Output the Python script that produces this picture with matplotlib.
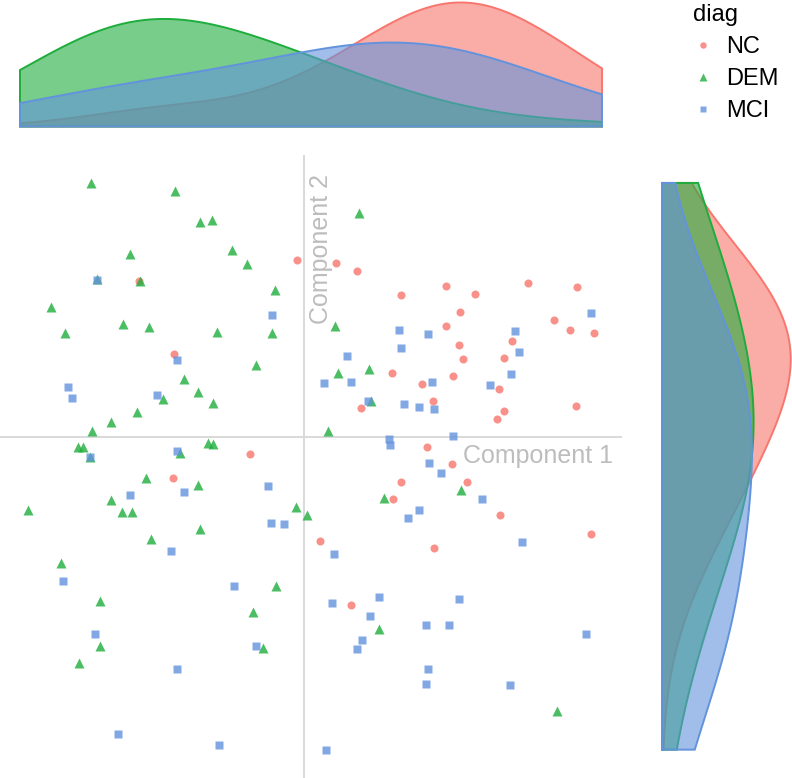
import numpy as np
import matplotlib
matplotlib.use('Agg')
import matplotlib.pyplot as plt
from matplotlib.lines import Line2D
from matplotlib.colors import to_rgba

plt.rcParams['font.family'] = ['Liberation Sans', 'DejaVu Sans']

# Component scores per diagnosis group
nc_c1 = [-0.14, -3.30, -2.60, 0.62, 1.04, 2.82, 1.92, 3.40, 4.46, 5.44,
         3.10, 2.82, 4.98, 5.30, 5.78, 3.08, 4.14, 3.16, 3.98, 1.74,
         2.34, 2.96, 3.88, 2.56, 1.12, 5.42, 3.98, 3.84, 2.44, 2.94,
         1.92, 3.24, 1.76, 3.90, 0.30, 2.58, 5.72, 0.92, -1.08, -2.62]
nc_c2 = [3.54, 3.12, 1.66, 3.48, 3.32, 3.02, 2.84, 2.86, 3.08, 3.00,
         2.50, 2.22, 2.34, 2.14, 2.08, 1.84, 1.92, 1.56, 1.58, 1.28,
         1.06, 1.22, 0.96, 0.72, 0.58, 0.62, 0.52, 0.36, -0.20, -0.54,
         -0.90, -0.90, -1.24, -1.56, -2.08, -2.22, -1.94, -3.36, -0.34, -0.82]

dem_c1 = [-4.26, -2.58, -2.08, -1.84, -3.48, -1.44, -1.14, -4.14, -3.28, -0.58,
          -5.06, -3.62, -3.10, -4.78, -1.74, -0.64, -0.96, -2.40, -2.12, -2.82,
          -1.82, -3.34, -3.86, -4.24, -4.52, -4.42, -1.92, -1.82, -4.28, -2.48,
          -3.16, -2.12, -3.86, -5.52, -3.64, -3.44, -0.16, 0.06, -2.08, -3.06,
          -4.86, -4.08, -0.56, -1.02, -4.08, -0.82, -4.50, 1.08, 0.60, 0.66,
          1.28, 1.32, 0.46, 1.58, 3.12, 1.48, 5.04]
dem_c2 = [5.08, 4.92, 4.30, 4.34, 3.66, 3.74, 3.46, 3.16, 3.12, 2.94,
          2.60, 2.26, 2.20, 2.08, 2.10, 2.08, 1.44, 1.16, 0.90, 0.76,
          0.68, 0.50, 0.30, 0.12, -0.20, -0.20, -0.12, -0.14, -0.40, -0.32,
          -0.82, -0.96, -1.26, -1.46, -1.50, -1.50, -1.40, -1.56, -1.84, -2.04,
          -2.52, -3.28, -2.98, -3.50, -4.18, -4.22, -4.52, 4.48, 2.22, 1.28,
          1.36, 0.72, 0.12, -1.22, -1.06, -3.84, -5.48]

mci_c1 = [-4.14, -0.64, -2.54, -4.72, -4.64, -2.94, 5.72, 1.88, 2.46, 4.20,
          1.92, 0.84, 4.28, 4.12, 0.38, 0.92, 2.54, 3.70, 1.26, 1.98,
          2.28, 2.58, 1.68, 1.70, 2.96, -4.28, -2.54, -2.40, -3.48, -0.72,
          -0.66, -0.40, -2.66, -4.82, -1.40, -4.18, -0.96, -2.54, -3.72, -1.70,
          2.48, 2.72, 3.54, 2.28, 2.06, 4.34, 0.58, 0.54, 1.48, 3.08,
          1.30, 2.42, 2.88, 5.62, 1.14, 1.04, 2.46, 2.42, 4.10, 0.42]
mci_c2 = [3.14, 2.44, 1.54, 1.00, 0.78, 0.84, 2.48, 2.14, 2.06, 2.12,
          1.78, 1.62, 1.70, 1.26, 1.08, 1.10, 1.10, 1.04, 0.72, 0.66,
          0.60, 0.56, -0.04, -0.16, 0.02, -0.40, -0.28, -1.10, -1.16, -0.98,
          -1.72, -1.74, -2.28, -2.88, -2.98, -3.94, -4.18, -4.64, -5.94, -6.16,
          -0.52, -0.72, -1.24, -1.46, -1.62, -2.10, -2.34, -3.32, -3.20, -3.24,
          -3.58, -3.76, -3.76, -3.94, -4.06, -4.24, -4.64, -4.94, -4.96, -6.26]

groups = ['NC', 'DEM', 'MCI']
colours = {'NC': '#F8766D', 'DEM': '#1EAD3C', 'MCI': '#6293DC'}
markers = {'NC': 'o', 'DEM': '^', 'MCI': 's'}
msizes = {'NC': 5.8, 'DEM': 7.2, 'MCI': 5.4}
data = {'NC': (nc_c1, nc_c2), 'DEM': (dem_c1, dem_c2), 'MCI': (mci_c1, mci_c2)}
bw_adjust = 2.0


def kde_nrd0(values, grid, adjust=1.0):
    """Gaussian kernel density with R's default bandwidth"""
    v = np.asarray(values, dtype=float)
    iqr = np.subtract(*np.percentile(v, [75, 25]))
    bw = adjust * 0.9 * min(v.std(ddof=1), iqr / 1.34) * len(v) ** -0.2
    z = (grid[:, None] - v[None, :]) / bw
    return np.exp(-0.5 * z ** 2).sum(axis=1) / (len(v) * bw * np.sqrt(2 * np.pi))


all_x = np.concatenate([data[g][0] for g in groups])
all_y = np.concatenate([data[g][1] for g in groups])
xmin, xmax = all_x.min(), all_x.max()
ymin, ymax = all_y.min(), all_y.max()
xpad = 0.05 * (xmax - xmin)
ypad = 0.05 * (ymax - ymin)

W, H = 792, 778
fig = plt.figure(figsize=(W / 100, H / 100), dpi=100)

# main scatter panel
ax = fig.add_axes([0, 0, 622 / W, 623.4 / H])
ax.axhline(0, color='#D9D9D9', lw=1.4, zorder=0)
ax.axvline(0, color='#D9D9D9', lw=1.4, zorder=0)
for g in groups:
    x, y = data[g]
    ax.plot(x, y, linestyle='none', marker=markers[g], ms=msizes[g],
            color=colours[g], alpha=0.8, mec='none')
ax.set_xlim(xmin - xpad, xmax + xpad)
ax.set_ylim(ymin - ypad, ymax + ypad)
ax.axis('off')
ax.text(xmax + xpad * 0.67, -0.38, 'Component 1', color='#BDBDBD', fontsize=18,
        ha='right', va='center')
ax.text(0.32, ymax + ypad * 0.3, 'Component 2', color='#BDBDBD', fontsize=18,
        ha='center', va='top', rotation=90)

# top marginal density
gx = np.linspace(xmin, xmax, 512)
dens_x = {g: kde_nrd0(data[g][0], gx, bw_adjust) for g in groups}
peak_x = max(d.max() for d in dens_x.values())
axt = fig.add_axes([0, (H - 126.5) / H, 622 / W, 126.5 / H])
for g in groups:
    d = dens_x[g]
    axt.fill(np.r_[gx, gx[::-1]], np.r_[d, np.zeros_like(d)],
             facecolor=to_rgba(colours[g], 0.6), edgecolor=colours[g], lw=1.4,
             clip_on=False)
tpad = (xmax - xmin) * 20 / 582
axt.set_xlim(xmin - tpad, xmax + tpad)
axt.set_ylim(0, peak_x * 126.5 / 124)
axt.axis('off')

# right marginal density
gy = np.linspace(ymin, ymax, 512)
dens_y = {g: kde_nrd0(data[g][1], gy, bw_adjust) for g in groups}
peak_y = max(d.max() for d in dens_y.values())
axr = fig.add_axes([662 / W, 0, 130 / W, 623.4 / H])
for g in groups:
    d = dens_y[g]
    axr.fill(np.r_[d, np.zeros_like(d)], np.r_[gy, gy[::-1]],
             facecolor=to_rgba(colours[g], 0.6), edgecolor=colours[g], lw=1.4,
             clip_on=False)
axr.set_xlim(0, peak_y * 1.01)
axr.set_ylim(ymin - ypad, ymax + ypad)
axr.axis('off')

# legend
handles = [Line2D([], [], linestyle='none', marker=markers[g], ms=msizes[g] * 0.8,
                  color=colours[g], alpha=0.8, mec='none') for g in groups]
leg = fig.legend(handles, groups, title='diag', loc='upper left',
                 bbox_to_anchor=(672 / W, 1.022), frameon=False, fontsize=17,
                 title_fontsize=17, handlelength=0.8, handletextpad=0.6,
                 labelspacing=0.42, alignment='left')

fig.savefig('out.png', dpi=100)
